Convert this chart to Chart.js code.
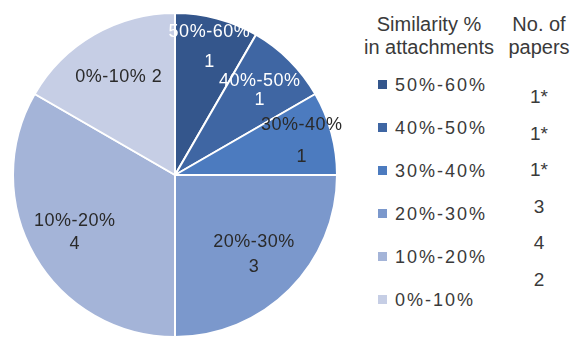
<!DOCTYPE html>
<html>
<head>
<meta charset="utf-8">
<script src="https://cdn.jsdelivr.net/npm/chart.js@4/dist/chart.umd.min.js"></script>
<style>
  body { margin: 0; background: #fff; font-family: "Liberation Sans", Arial, sans-serif; color: #3a3a3a; }
  #wrap { position: relative; width: 575px; height: 341px; overflow: hidden; }
  #pieBox { position: absolute; left: 0; top: 0; width: 350px; height: 341px; }
  .head { position: absolute; font-size: 20px; line-height: 23px; text-align: center; }
  .item { position: absolute; left: 378px; font-size: 18px; letter-spacing: 2px; line-height: 22px; white-space: nowrap; }
  .item span { display: inline-block; width: 9px; height: 9px; margin-right: 8px; vertical-align: 2px; }
  .num { position: absolute; left: 510px; width: 58px; text-align: center; font-size: 19px; line-height: 22px; }
</style>
</head>
<body>
<div id="wrap">
  <div id="pieBox"><canvas id="pie" width="350" height="341"></canvas></div>
  <div class="head" style="left:355px;top:13px;width:148px">Similarity %<br>in attachments</div>
  <div class="head" style="left:505px;top:13px;width:68px">No. of<br>papers</div>
  <div id="legend"></div>
</div>
<script>
const categories = ["50%-60%", "40%-50%", "30%-40%", "20%-30%", "10%-20%", "0%-10%"];
const papers = [1, 1, 1, 3, 4, 2];
const paperNotes = ["*", "*", "*", "", "", ""];
const colors = ["#34568c", "#3f66a3", "#4c7bbf", "#7b98cc", "#a4b4d8", "#c6cee5"];

// label placement inside each slice (fraction of radius, gap between lines)
const labelFrac = [0.82, 0.74, 0.81, 0.69, 0.715, 0.695];
const labelGap = [30, 19, 32, 25, 23, 0];
const labelColor = ["#ffffff", "#ffffff", "#2a2a2a", "#2a2a2a", "#2a2a2a", "#2a2a2a"];

const sliceLabels = {
  id: "sliceLabels",
  afterDatasetsDraw(chart) {
    const ctx = chart.ctx;
    const meta = chart.getDatasetMeta(0);
    ctx.save();
    ctx.font = "18px 'Liberation Sans', Arial, sans-serif";
    ctx.letterSpacing = "0.5px";
    ctx.textAlign = "center";
    ctx.textBaseline = "middle";
    meta.data.forEach((arc, i) => {
      const p = arc.getProps(["x", "y", "startAngle", "endAngle", "outerRadius"], true);
      const mid = (p.startAngle + p.endAngle) / 2;
      const r = p.outerRadius * labelFrac[i];
      const x = p.x + Math.cos(mid) * r;
      const y = p.y + Math.sin(mid) * r;
      ctx.fillStyle = labelColor[i];
      if (labelGap[i] === 0) {
        ctx.fillText(categories[i] + " " + papers[i], x, y);
      } else {
        ctx.fillText(categories[i], x, y - labelGap[i] / 2);
        ctx.fillText(String(papers[i]), x, y + labelGap[i] / 2);
      }
    });
    ctx.restore();
  }
};

new Chart(document.getElementById("pie"), {
  type: "pie",
  data: {
    labels: categories,
    datasets: [{
      data: papers,
      backgroundColor: colors,
      borderColor: "#ffffff",
      borderWidth: 2
    }]
  },
  options: {
    responsive: false,
    animation: false,
    layout: { padding: { left: 12, right: 12, top: 12, bottom: 3 } },
    plugins: {
      legend: { display: false },
      tooltip: { enabled: false }
    }
  },
  plugins: [sliceLabels]
});

// legend on the right
const legend = document.getElementById("legend");
categories.forEach((c, i) => {
  const it = document.createElement("div");
  it.className = "item";
  it.style.top = (85 + i * 43 - 11) + "px";
  it.innerHTML = '<span style="background:' + colors[i] + '"></span>' + c;
  legend.appendChild(it);

  const n = document.createElement("div");
  n.className = "num";
  n.style.top = (97 + i * 36.6 - 11) + "px";
  n.textContent = papers[i] + paperNotes[i];
  legend.appendChild(n);
});
</script>
</body>
</html>
